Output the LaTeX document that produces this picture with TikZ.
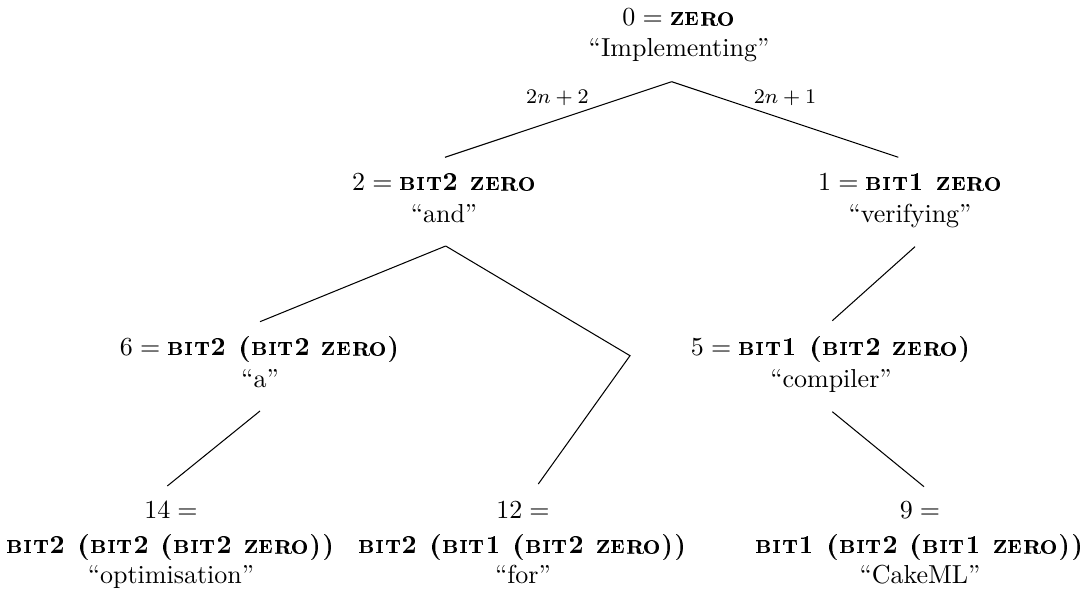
\documentclass[tikz,border=0pt]{standalone}
\usepackage[T1,TU]{fontenc}
% bold extended small caps for constructor names
\newcommand\kw[1]{{\fontencoding{T1}\fontfamily{cmr}\fontseries{bx}\fontshape{sc}\selectfont #1}}
\tikzset{
  txt/.style={anchor=base, inner sep=0pt, font=\normalsize},
  elabel/.style={anchor=base, inner sep=0pt, font=\footnotesize},
  edge/.style={draw=black, line width=0.4pt}
}
\begin{document}
\begin{tikzpicture}[x=0.3846pt,y=-0.3846pt]
\useasboundingbox (0,0) rectangle (1086,596);

% tree nodes, one text line each
\node[txt] (n0a) at (679,26)  {$0 = {}$\kw{zero}};
\node[txt] (n0b) at (679,57)  {``Implementing''};
\node[txt] (n2a) at (444,190.7) {$2 = {}$\kw{bit2 zero}};
\node[txt] (n2b) at (444,223) {``and''};
\node[txt] (n1a) at (910,190.7) {$1 = {}$\kw{bit1 zero}};
\node[txt] (n1b) at (910,223) {``verifying''};
\node[txt] (n6a) at (260,356) {$6 = {}$\kw{bit2 (bit2 zero)}};
\node[txt] (n6b) at (260,388) {``a''};
\node[txt] (n5a) at (831,356) {$5 = {}$\kw{bit1 (bit2 zero)}};
\node[txt] (n5b) at (831,388) {``compiler''};
\node[txt] (n14a) at (171,519) {$14 =$};
\node[txt] (n14b) at (171,553.5) {\kw{bit2 (bit2 (bit2 zero))}};
\node[txt] (n14c) at (171,583.5) {``optimisation''};
\node[txt] (n12a) at (523,519) {$12 =$};
\node[txt] (n12b) at (523,553.5) {\kw{bit2 (bit1 (bit2 zero))}};
\node[txt] (n12c) at (523,583.5) {``for''};
\node[txt] (n9a) at (920,519) {$9 =$};
\node[txt] (n9b) at (920,553.5) {\kw{bit1 (bit2 (bit1 zero))}};
\node[txt] (n9c) at (920,583.5) {``CakeML''};

% edge end points
\coordinate (r0) at (671.7,81.7);
\coordinate (t2) at (445,157.3);
\coordinate (t1) at (898.3,157.3);
\coordinate (b2) at (445.7,246);
\coordinate (t6) at (260,321.7);
\coordinate (bend) at (630,355.7);
\coordinate (t12) at (538.3,484);
\coordinate (b1) at (915,246.7);
\coordinate (t5) at (832.3,320.7);
\coordinate (b5) at (832.3,411.7);
\coordinate (t9) at (924,486.7);
\coordinate (b6) at (260,411);
\coordinate (t14) at (167.3,486);

% edges
\draw[edge] (r0) -- (t2);
\draw[edge] (r0) -- (t1);
\draw[edge] (b2) -- (t6);
\draw[edge] (b2) -- (bend) -- (t12);
\draw[edge] (b1) -- (t5);
\draw[edge] (b5) -- (t9);
\draw[edge] (b6) -- (t14);

% edge labels
\node[elabel] (l2) at (557.5,103.3) {$2n+2$};
\node[elabel] (l1) at (785,103.3) {$2n+1$};
\end{tikzpicture}
\end{document}
